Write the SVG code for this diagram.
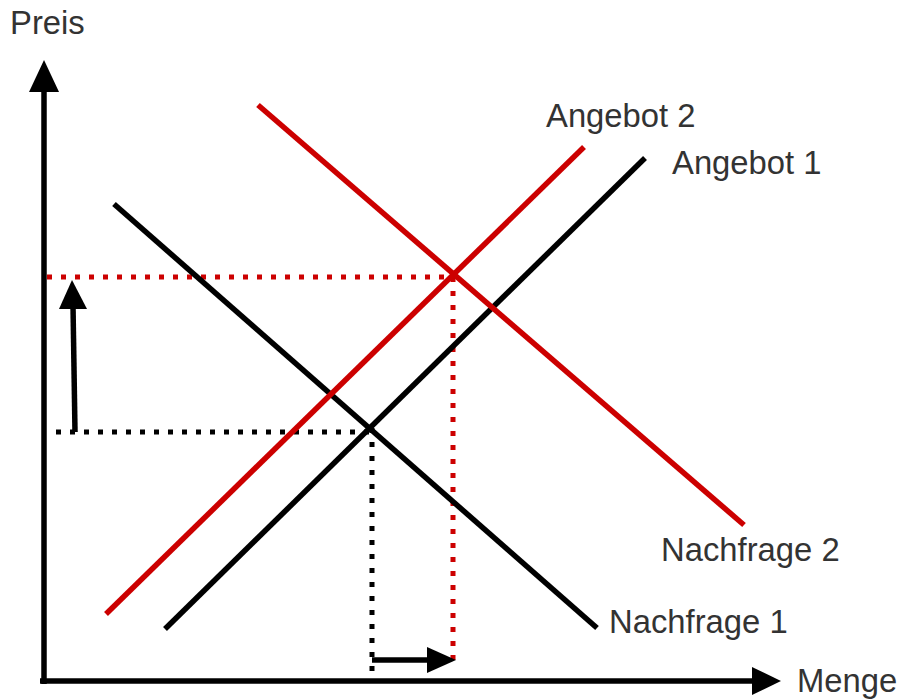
<svg xmlns="http://www.w3.org/2000/svg" width="906" height="700" viewBox="0 0 906 700">
<style>
.lbl{font-family:"Liberation Sans",Arial,sans-serif;font-size:32.8px;fill:#333333}
.blk{stroke:#000;stroke-width:5.5;fill:none}
.red{stroke:#cc0000;stroke-width:5.5;fill:none}
.dotb{stroke:#000;stroke-width:5;stroke-dasharray:5 9;fill:none}
.dotr{stroke:#cc0000;stroke-width:5;stroke-dasharray:5 9;fill:none}
</style>
<rect width="906" height="700" fill="#fff"/>
<g id="axes">
<path class="blk" d="M44,684 V88"/>
<polygon points="44,60 29,92 59,92" fill="#000"/>
<path class="blk" d="M40,681 H754"/>
<polygon points="781,681 752,667 752,695" fill="#000"/>
</g>
<g id="guides">
<path class="dotr" d="M47,277 H453"/>
<path class="dotr" d="M453,277 V668"/>
<path class="dotb" d="M56,432 H371"/>
<path class="dotb" d="M372,428 V681"/>
</g>
<g id="connectors">
<path class="blk" d="M114,204 L597,628"/>
<path class="blk" d="M165,629 L645,158"/>
<path class="red" d="M106,614 L584,147"/>
<path class="red" d="M258,105 L744,525"/>
<path class="blk" d="M75,432 L73,305"/>
<polygon points="72,280 59,309 87,309" fill="#000"/>
<path class="blk" d="M372,660 H430"/>
<polygon points="456,660 427,647 427,673" fill="#000"/>
</g>
<g id="labels">
<text class="lbl" x="10" y="34">Preis</text>
<text class="lbl" x="546" y="127">Angebot 2</text>
<text class="lbl" x="672" y="174">Angebot 1</text>
<text class="lbl" x="661" y="561">Nachfrage 2</text>
<text class="lbl" x="609" y="633">Nachfrage 1</text>
<text class="lbl" x="797" y="692">Menge</text>
</g>
</svg>
